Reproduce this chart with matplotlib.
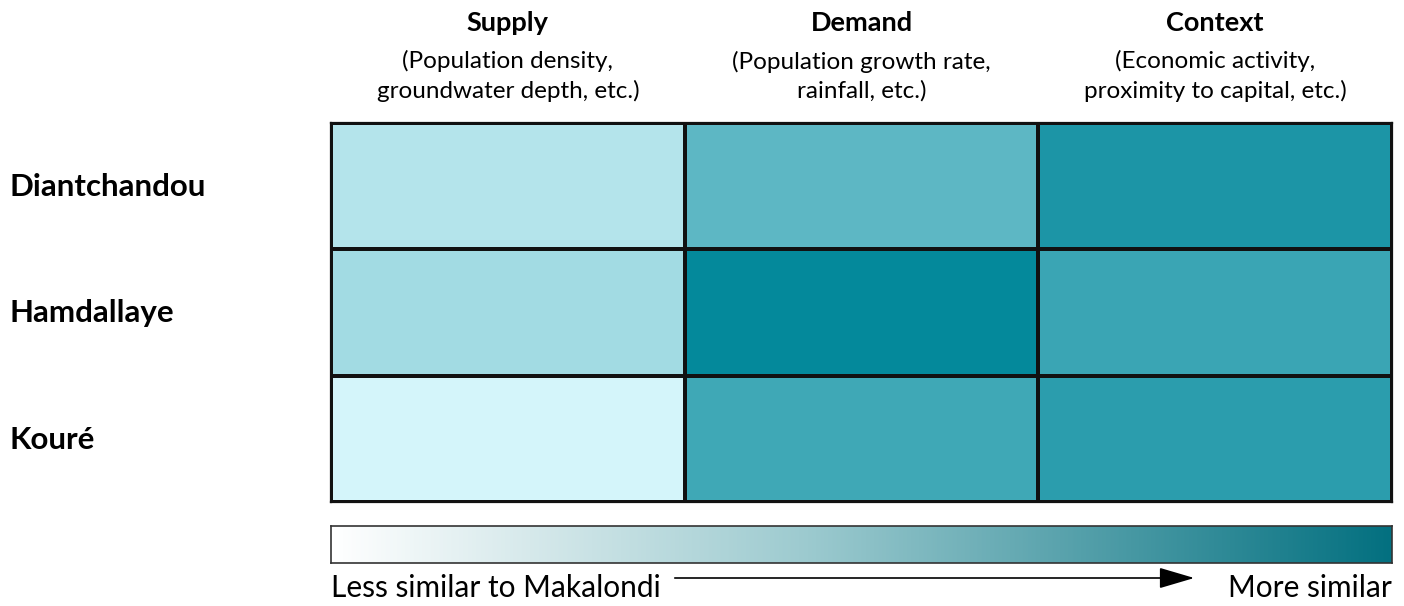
import numpy as np
import matplotlib
matplotlib.use("Agg")
import matplotlib.pyplot as plt
from matplotlib.colors import LinearSegmentedColormap

plt.rcParams['font.family'] = ['Lato', 'DejaVu Sans']

regions = ["Diantchandou", "Hamdallaye", "Kouré"]
dimensions = ["Supply", "Demand", "Context"]
dimension_notes = ["(Population density,\ngroundwater depth, etc.)",
                   "(Population growth rate,\nrainfall, etc.)",
                   "(Economic activity,\nproximity to capital, etc.)"]
similarity = np.array([
    [0.17, 0.57, 0.87],
    [0.25, 0.98, 0.73],
    [0.02, 0.71, 0.80],
])
legend_left = "Less similar to Makalondi"
legend_right = "More similar"

W, H = 1404, 606
fig = plt.figure(figsize=(W / 100, H / 100), dpi=100)

cell_cmap = LinearSegmentedColormap.from_list("cells", ["#d8f7fc", "#008799"])
bar_cmap = LinearSegmentedColormap.from_list("bar", [(0, "#ffffff"), (0.45, "#9ccacf"), (1, "#037080")])

ax = fig.add_axes([331 / W, (H - 502) / H, 1061 / W, 379 / H])
ax.pcolormesh(similarity, cmap=cell_cmap, vmin=0, vmax=1, edgecolors="#111111", linewidth=1.6)
ax.set_xlim(0, 3)
ax.set_ylim(3, 0)
ax.set_xticks([])
ax.set_yticks([])
for s in ax.spines.values():
    s.set_linewidth(1.6)
    s.set_color("#111111")

for j, (d, note) in enumerate(zip(dimensions, dimension_notes)):
    ax.text(j + 0.5, -0.79, d, ha="center", va="center", fontsize=19.5, fontweight="bold",
            clip_on=False)
    ax.text(j + 0.5, -0.37, note, ha="center", va="center", fontsize=17.5, linespacing=1.45,
            clip_on=False)

for i, r in enumerate(regions):
    fig.text(10 / W, 1 - (187 + 126.3 * i) / H, r, ha="left", va="center", fontsize=22.5, fontweight="bold")

cax = fig.add_axes([331 / W, 43 / H, 1061 / W, 37 / H])
grad = np.linspace(0, 1, 512)[None, :]
cax.imshow(grad, aspect="auto", cmap=bar_cmap, extent=[0, 1, 0, 1])
cax.set_xticks([])
cax.set_yticks([])
for s in cax.spines.values():
    s.set_linewidth(1.2)
    s.set_color("#333333")

fig.text(331 / W, 1 - 588 / H, legend_left, ha="left", va="center", fontsize=21.5)
fig.text(1392 / W, 1 - 588 / H, legend_right, ha="right", va="center", fontsize=21.5)
fig.add_artist(matplotlib.patches.FancyArrowPatch((672 / W, 1 - 578 / H), (1197 / W, 1 - 578 / H),
               transform=fig.transFigure, arrowstyle="-|>,head_length=22,head_width=6.5",
               mutation_scale=1, color="black", linewidth=1.2))

fig.savefig("out.png", dpi=100)
